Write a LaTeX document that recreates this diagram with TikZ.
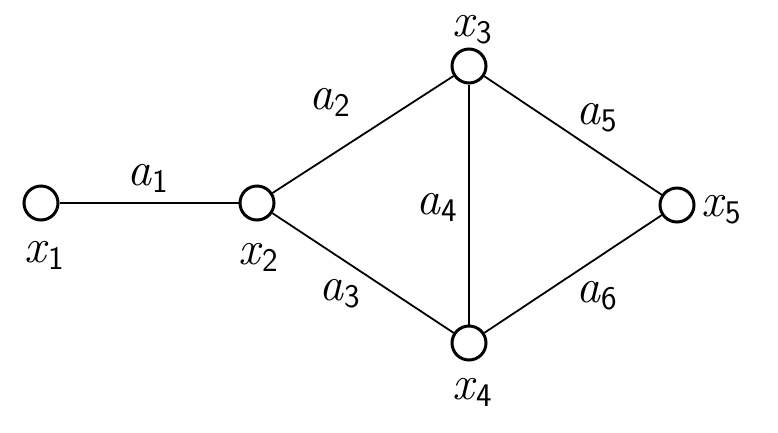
\documentclass[tikz,border=0pt]{standalone}
\newcommand\lbl[2]{\fontsize{48}{48}\selectfont\textit{#1}\raisebox{-7pt}{\fontsize{33}{33}\selectfont\sffamily #2}}
\begin{document}
\begin{tikzpicture}[x=1pt,y=-1pt,
  vert/.style={circle,draw,line width=3pt,minimum size=34pt,inner sep=0pt},
  edge/.style={line width=1.8pt},
  lab/.style={inner sep=0pt,anchor=center}]
\useasboundingbox (0,0) rectangle (778,432);
\node[vert] (x1) at (41,203) {};
\node[vert] (x2) at (257,203) {};
\node[vert] (x3) at (469,66) {};
\node[vert] (x4) at (469,343) {};
\node[vert] (x5) at (677,205) {};
\draw[edge] (x1) -- (x2);
\draw[edge] (x2) -- (x3);
\draw[edge] (x2) -- (x4);
\draw[edge] (x3) -- (x4);
\draw[edge] (x3) -- (x5);
\draw[edge] (x4) -- (x5);
\node[lab] (l1) at (44,255) {\lbl{x}{1}};
\node[lab] (l2) at (258,257) {\lbl{x}{2}};
\node[lab] (l3) at (472,30) {\lbl{x}{3}};
\node[lab] (l4) at (472,392) {\lbl{x}{4}};
\node[lab] (l5) at (721,210) {\lbl{x}{5}};
\node[lab] (e1) at (148,178) {\lbl{a}{1}};
\node[lab] (e2) at (330,102) {\lbl{a}{2}};
\node[lab] (e3) at (340,294) {\lbl{a}{3}};
\node[lab] (e4) at (437,207) {\lbl{a}{4}};
\node[lab] (e5) at (597,118) {\lbl{a}{5}};
\node[lab] (e6) at (597,296) {\lbl{a}{6}};
\end{tikzpicture}
\end{document}
